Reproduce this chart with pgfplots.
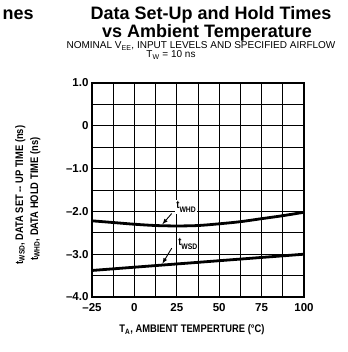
\documentclass[border=0pt]{standalone}
\usepackage{fontspec}
\setmainfont{Liberation Sans}
\newfontfamily\condfont[FakeStretch=0.85]{Liberation Sans}
\usepackage{pgfplots}
\pgfplotsset{compat=1.18}
\begin{document}
\begin{tikzpicture}[x=1pt,y=1pt]
\path[use as bounding box] (0,0) rectangle (347,352);
\coordinate (O) at (92,55);
\begin{axis}[at={(O)}, anchor=south west, width=212pt, height=214pt, scale only axis,
 xmin=-25, xmax=100, ymin=-4, ymax=1,
 xtick={-25,0,25,50,75,100}, minor xtick={-12.5,12.5,37.5,62.5,87.5},
 ytick={-4,-3,-2,-1,0,1}, minor ytick={-3.5,-2.5,-1.5,-0.5,0.5},
 xticklabels={--25,0,25,50,75,100}, yticklabels={--4.0,--3.0,--2.0,--1.0,0,1.0},
 grid=both, major grid style={black, line width=0.7pt}, minor grid style={black, line width=0.7pt},
 major tick length=0pt, minor tick length=0pt,
 axis line style={line width=1.3pt},
 ticklabel style={font=\fontsize{11.5}{13}\selectfont\bfseries},
 xticklabel style={yshift=-3pt},
 clip=false]
\addplot[black, line width=2.8pt, smooth] coordinates {(-25,-2.22) (-12.5,-2.26) (0,-2.30) (12.5,-2.33) (25,-2.34) (37.5,-2.33) (50,-2.29) (62.5,-2.24) (75,-2.17) (87.5,-2.10) (100,-2.02)};
\addplot[black, line width=2.8pt] coordinates {(-25,-3.38) (100,-3.0)};
\node[fill=white, inner sep=1pt, font=\condfont\bfseries\fontsize{11}{13}\selectfont] at (axis cs:30.5,-1.90) {t\raisebox{-0.7ex}{\fontsize{8}{9}\selectfont WHD}};
\node[fill=white, inner sep=1pt, font=\condfont\bfseries\fontsize{11}{13}\selectfont] at (axis cs:31.5,-2.75) {t\raisebox{-0.7ex}{\fontsize{8}{9}\selectfont WSD}};
\draw[-latex, line width=0.9pt] (axis cs:22,-2.05) -- (axis cs:16.5,-2.30);
\draw[-latex, line width=0.9pt] (axis cs:22,-2.86) -- (axis cs:16.5,-3.22);
\end{axis}
\node[anchor=base west, font=\fontsize{18}{20}\selectfont\bfseries] at (-1,332) {nes};
\node[anchor=base, font=\fontsize{18}{20}\selectfont\bfseries] at (211,332) {Data Set-Up and Hold Times};
\node[anchor=base, font=\fontsize{18}{20}\selectfont\bfseries] at (207,314) {vs Ambient Temperature};
\node[anchor=base, font=\fontsize{10}{12}\selectfont] at (201,303) {NOMINAL V\textsubscript{EE}, INPUT LEVELS AND SPECIFIED AIRFLOW};
\node[anchor=base, font=\fontsize{10}{12}\selectfont] at (171,294) {T\textsubscript{W} = 10 ns};
\node[anchor=base, font=\condfont\bfseries\fontsize{11}{13}\selectfont] at (192,19) {T\textsubscript{A}, AMBIENT TEMPERTURE (\textdegree C)};
\node[anchor=base, rotate=90, font=\condfont\bfseries\fontsize{11}{13}\selectfont] at (23,157) {t\textsubscript{WSD}, DATA SET -- UP TIME (ns)};
\node[anchor=base, rotate=90, font=\condfont\bfseries\fontsize{11}{13}\selectfont] at (38,153) {t\textsubscript{WHD}, DATA HOLD TIME (ns)};
\end{tikzpicture}
\end{document}
